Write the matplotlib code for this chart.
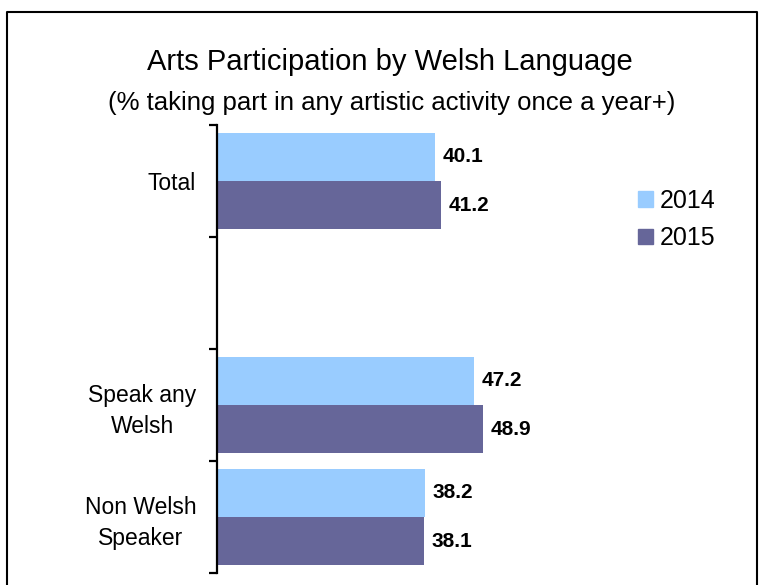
import matplotlib
matplotlib.use('Agg')
import matplotlib.pyplot as plt
from matplotlib.lines import Line2D

# Arts participation by Welsh language, % taking part once a year+
categories = ['Total', '', 'Speak any\nWelsh', 'Non Welsh\nSpeaker']
vals_2014 = [40.1, None, 47.2, 38.2]
vals_2015 = [41.2, None, 48.9, 38.1]
years = ['2014', '2015']
colors = ['#99CCFF', '#666699']

text_font = ['Liberation Sans', 'DejaVu Sans']

fig = plt.figure(figsize=(7.63, 5.85), dpi=100)
W, H = 763, 585
ax = fig.add_axes([217 / W, 1 - 573 / H, 381 / W, 448 / H])

n = len(categories)
ypos = [n - 1 - i for i in range(n)]
bh = 0.43
for i, y in enumerate(ypos):
    if vals_2014[i] is None:
        continue
    ax.barh(y + bh / 2, vals_2014[i], height=bh, color=colors[0])
    ax.barh(y - bh / 2, vals_2015[i], height=bh, color=colors[1])
    ax.text(vals_2014[i] + 1.4, y + bh / 2, f'{vals_2014[i]:.1f}', va='center',
            ha='left', fontsize=15, fontweight='bold', family=text_font)
    ax.text(vals_2015[i] + 1.4, y - bh / 2, f'{vals_2015[i]:.1f}', va='center',
            ha='left', fontsize=15, fontweight='bold', family=text_font)

ax.set_xlim(0, 70)
ax.set_ylim(-0.5, n - 0.5)

for s in ['top', 'right', 'bottom']:
    ax.spines[s].set_visible(False)
ax.spines['left'].set_linewidth(1.6)
ax.set_xticks([])

ax.set_yticks(ypos)
ax.set_yticklabels(categories, fontsize=16.5, family=text_font,
                   multialignment='center', linespacing=1.4)
ax.tick_params(axis='y', which='major', length=0, pad=15)
ax.set_yticks([k - 0.5 for k in range(n + 1)], minor=True)
ax.tick_params(axis='y', which='minor', length=6, width=1.6, direction='out')

# legend
handles = [plt.Rectangle((0, 0), 1, 1, color=c) for c in colors]
fig.legend(handles, years, loc='upper left', bbox_to_anchor=(615 / W, 1 - 166 / H),
           frameon=False, prop={'family': text_font, 'size': 18},
           handlelength=0.6, handleheight=0.6, handletextpad=0.3,
           labelspacing=0.55)

fig.text(390 / W, 1 - 62 / H, 'Arts Participation by Welsh Language', ha='center',
         va='center', fontsize=21, family=text_font)
fig.text(392 / W, 1 - 103 / H, '(% taking part in any artistic activity once a year+)',
         ha='center', va='center', fontsize=18.5, family=text_font)

# outer frame
fig.add_artist(Line2D([7 / W, 7 / W, 757 / W, 757 / W],
                      [0, 1 - 12 / H, 1 - 12 / H, 0], color='black', lw=1.5))

fig.savefig('out.png', dpi=100)
